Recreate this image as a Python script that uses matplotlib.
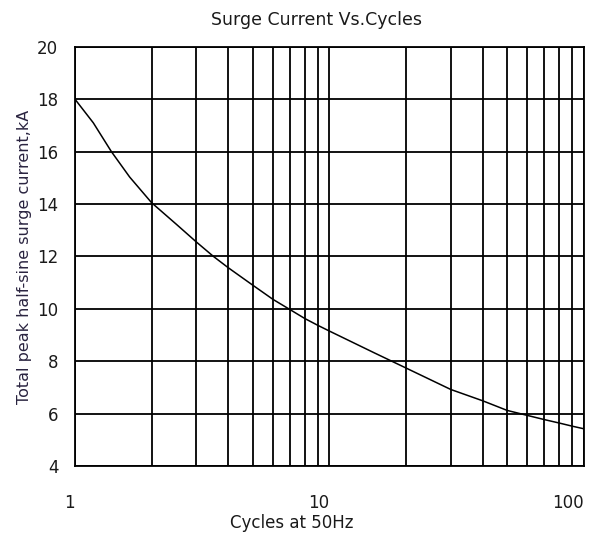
import numpy as np
import matplotlib
matplotlib.use("Agg")
import matplotlib.pyplot as plt
from matplotlib.ticker import FixedLocator, NullFormatter

# values
cycles = [1, 1.18, 1.39, 1.64, 2, 2.5, 3, 3.5, 4, 5, 6, 7, 8, 9, 10,
          15, 20, 30, 40, 50, 60, 70, 80, 90, 100]
surge_ka = [18.0, 17.1, 16.0, 15.03, 14.05, 13.23, 12.55, 12.0, 11.57, 10.9,
            10.36, 9.97, 9.63, 9.37, 9.15, 8.32, 7.74, 6.92, 6.49, 6.12,
            5.93, 5.77, 5.64, 5.52, 5.42]

x_ticks = [1, 10, 100]
x_ticklabels = ["1", "10", "100"]
y_ticks = [4, 6, 8, 10, 12, 14, 16, 18, 20]

plt.rcParams['font.family'] = ['DejaVu Sans']

fig = plt.figure(figsize=(6.05, 5.45), dpi=100)
ax = fig.add_axes([0.124, 0.145, 0.841, 0.769])

ax.plot(cycles, surge_ka, color="black", linewidth=1.1)

ax.set_xscale("log")
ax.set_xlim(1, 100)
ax.set_ylim(4, 20)

minor = [m * d for d in (1, 10) for m in range(2, 10)]
ax.xaxis.set_major_locator(FixedLocator(x_ticks))
ax.xaxis.set_minor_locator(FixedLocator(minor))
ax.xaxis.set_minor_formatter(NullFormatter())
ax.set_xticklabels(x_ticklabels, ha="right")
ax.set_yticks(y_ticks)

ax.grid(True, which="both", axis="x", color="black", linewidth=1.3)
ax.grid(True, which="major", axis="y", color="black", linewidth=1.3)

ax.tick_params(axis="both", which="both", length=0, labelsize=12,
               labelcolor="#1a1a1a")
ax.tick_params(axis="x", pad=20)
ax.tick_params(axis="y", pad=12)

for s in ax.spines.values():
    s.set_linewidth(1.3)
    s.set_color("black")

ax.set_xlabel("Cycles at 50Hz", fontsize=12, color="#1a1a1a")
ax.xaxis.set_label_coords(0.426, -0.115)
ax.set_ylabel("Total peak half-sine surge current,kA", fontsize=11.5,
              labelpad=4, color="#2a2440")
ax.set_title("Surge Current Vs.Cycles", fontsize=12.5, pad=16,
             color="#1a1a1a", x=0.474)

fig.savefig("out.png", dpi=100)
